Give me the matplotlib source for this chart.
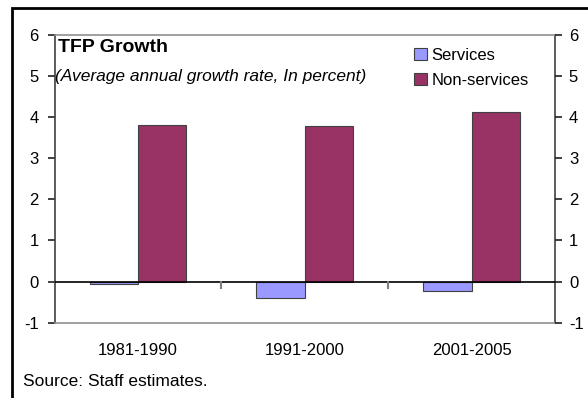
import numpy as np
import matplotlib.pyplot as plt
from matplotlib.patches import Rectangle

periods = ["1981-1990", "1991-2000", "2001-2005"]
services = [-0.05, -0.40, -0.22]
non_services = [3.80, 3.78, 4.12]
yticks = list(range(-1, 7))

plt.rcParams['font.family'] = ['Arial', 'Liberation Sans', 'DejaVu Sans']
fig = plt.figure(figsize=(5.88, 3.98), dpi=100)

# plot area in pixels: x 54..555, y 35..323 (top-down)
W, H = 588, 398
ax = fig.add_axes([54.5 / W, 1 - 322.7 / H, (555 - 54.5) / W, (322.7 - 34.7) / H])

x = np.arange(len(periods))
bw = 0.29
ax.bar(x - bw / 2, services, bw, color="#9999FF", edgecolor="#404040", linewidth=0.8, label="Services", zorder=2)
ax.bar(x + bw / 2, non_services, bw, color="#993366", edgecolor="#404040", linewidth=0.8, label="Non-services", zorder=2)

ax.set_xlim(-0.5, len(periods) - 0.5)
ax.set_ylim(-1, 6)
ax.set_yticks(yticks)
ax.set_yticklabels([str(v) for v in yticks], fontsize=12)
ax.tick_params(axis="y", direction="out", length=5, width=1.2, color="#202020", pad=6.5)
ax.set_xticks([])
for s in ax.spines.values():
    s.set_color("#909090")
    s.set_linewidth(1.2)
ax.spines["left"].set_color("#404040")
ax.spines["right"].set_color("#404040")

# right-hand axis with the same scale
ax2 = ax.twinx()
ax2.set_ylim(ax.get_ylim())
ax2.set_yticks(yticks)
ax2.set_yticklabels([str(v) for v in yticks], fontsize=12)
ax2.tick_params(axis="y", direction="out", length=5, width=1.2, color="#202020", pad=5)
for s in ax2.spines.values():
    s.set_visible(False)

ax.axhline(0, color="black", linewidth=1.2, zorder=3)
# category separator ticks on the zero line
for b in np.arange(0.5, len(periods) - 1, 1.0):
    ax.plot([b, b], [0, -0.15], color="#808080", linewidth=1.5, zorder=3, clip_on=False)

for i, p in enumerate(periods):
    ax.text(i, -1.67, p, ha="center", va="center", fontsize=12)

fig.text(58 / W, 1 - 47 / H, "TFP Growth", fontsize=14, fontweight="bold", va="center")
fig.text(55 / W, 1 - 77 / H, "(Average annual growth rate, In percent)",
         fontsize=12.5, style="italic", va="center")

leg = ax.legend(loc="upper left", bbox_to_anchor=(414 / W, 1 - 48 / H), bbox_transform=fig.transFigure,
                frameon=False, fontsize=12, borderpad=0, borderaxespad=0,
                handlelength=0.75, handleheight=0.75, handletextpad=0.3, labelspacing=0.6)

fig.text(23 / W, 1 - 382 / H, "Source: Staff estimates.", fontsize=12.5, va="center")

# outer frame
fig.patches.append(Rectangle((12 / W, -0.05), 1.1, 1 - 8 / H + 0.05, transform=fig.transFigure,
                             fill=False, edgecolor="black", linewidth=2))

fig.savefig("out.png", dpi=100)
